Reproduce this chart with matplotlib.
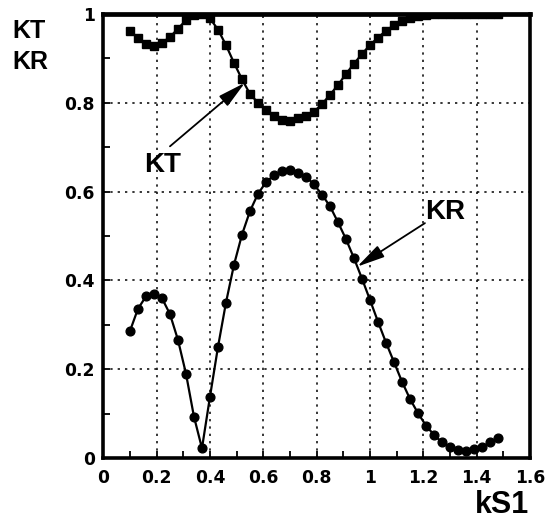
import numpy as np
import matplotlib
matplotlib.use("Agg")
import matplotlib.pyplot as plt
from matplotlib.ticker import MultipleLocator
from matplotlib import font_manager

ks1 = [0.10, 0.13, 0.16, 0.19, 0.22, 0.25, 0.28, 0.31, 0.34, 0.37,
       0.40, 0.43, 0.46, 0.49, 0.52, 0.55, 0.58, 0.61, 0.64, 0.67,
       0.70, 0.73, 0.76, 0.79, 0.82, 0.85, 0.88, 0.91, 0.94, 0.97,
       1.00, 1.03, 1.06, 1.09, 1.12, 1.15, 1.18, 1.21, 1.24, 1.27,
       1.30, 1.33, 1.36, 1.39, 1.42, 1.45, 1.48]

kt = [0.962, 0.946, 0.933, 0.928, 0.935, 0.948, 0.967, 0.986, 0.997, 1.000,
      0.990, 0.965, 0.930, 0.890, 0.853, 0.820, 0.800, 0.784, 0.770, 0.762,
      0.760, 0.765, 0.770, 0.780, 0.797, 0.818, 0.840, 0.865, 0.888, 0.910,
      0.930, 0.947, 0.962, 0.975, 0.985, 0.991, 0.995, 0.997, 0.999, 0.999,
      1.000, 1.000, 1.000, 1.000, 1.000, 1.000, 0.999]

kr = [0.286, 0.336, 0.364, 0.369, 0.360, 0.324, 0.266, 0.190, 0.093, 0.022,
      0.138, 0.250, 0.350, 0.435, 0.503, 0.556, 0.595, 0.621, 0.637, 0.646,
      0.648, 0.642, 0.634, 0.616, 0.593, 0.567, 0.531, 0.493, 0.450, 0.404,
      0.356, 0.307, 0.260, 0.216, 0.172, 0.133, 0.101, 0.073, 0.052, 0.035,
      0.024, 0.018, 0.016, 0.020, 0.025, 0.035, 0.044]

xticks = [0, 0.2, 0.4, 0.6, 0.8, 1.0, 1.2, 1.4, 1.6]
xticklabels = ["0", "0.2", "0.4", "0.6", "0.8", "1", "1.2", "1.4", "1.6"]
yticks = [0, 0.2, 0.4, 0.6, 0.8, 1.0]
yticklabels = ["0", "0.2", "0.4", "0.6", "0.8", "1"]

plt.rcParams['font.family'] = ['Liberation Sans', 'DejaVu Sans']
plt.rcParams['font.weight'] = 'bold'

names = {f.name for f in font_manager.fontManager.ttflist}
narrow = ['Liberation Sans Narrow', 'Liberation Sans'] if 'Liberation Sans Narrow' in names else ['Liberation Sans']

W, H = 559, 522
fig = plt.figure(figsize=(W / 100, H / 100), dpi=100)
ax = fig.add_axes([103.3 / W, 1 - 458 / H, (530 - 103.3) / W, (458 - 14) / H])

ax.plot(ks1, kt, color='black', lw=1.6, marker='s', ms=5.2, mfc='black', mec='black', zorder=3)
ax.plot(ks1, kr, color='black', lw=1.6, marker='o', ms=6.3, mfc='black', mec='black', zorder=3)

ax.set_xlim(0, 1.6)
ax.set_ylim(0, 1)
ax.set_xticks(xticks)
ax.set_xticklabels(xticklabels)
ax.set_yticks(yticks)
ax.set_yticklabels(yticklabels)
ax.xaxis.set_minor_locator(MultipleLocator(0.1))
ax.yaxis.set_minor_locator(MultipleLocator(0.1))
ax.tick_params(which='both', direction='in', length=5, width=1.3, top=False, right=False)
ax.tick_params(axis='x', which='major', labelsize=12.3, pad=8)
ax.tick_params(axis='y', which='major', labelsize=12.3, pad=6)
for lab in ax.get_xticklabels() + ax.get_yticklabels():
    lab.set_fontweight('bold')
    lab.set_family(['DejaVu Sans'])

ax.grid(True, which='major', color='black', linestyle=(0, (1.5, 3.3)), linewidth=1.1)
for s in ax.spines.values():
    s.set_linewidth(2.6)
ax.spines['top'].set_linewidth(3.4)

arrow_style = dict(arrowstyle='-|>,head_length=1.7,head_width=0.4', color='black', lw=1.3,
                   shrinkA=0, shrinkB=0, mutation_scale=10)
ax.annotate("", xy=(0.531, 0.845), xytext=(0.250, 0.702), arrowprops=arrow_style)
ax.annotate("", xy=(0.952, 0.431), xytext=(1.206, 0.529), arrowprops=arrow_style)
ax.text(0.222, 0.660, "KT", fontsize=20, fontweight='bold', ha='center', va='center')
ax.text(1.281, 0.555, "KR", fontsize=20, fontweight='bold', ha='center', va='center')

fig.text(12 / W, 1 - 19 / H, "KT\nKR", fontsize=18, fontweight='bold', ha='left', va='top',
         linespacing=1.35, family=narrow)
fig.text(529 / W, 1 - 520 / H, "kS1", fontsize=22, fontweight='bold', ha='right', va='bottom')

fig.savefig("out.png", dpi=100)
